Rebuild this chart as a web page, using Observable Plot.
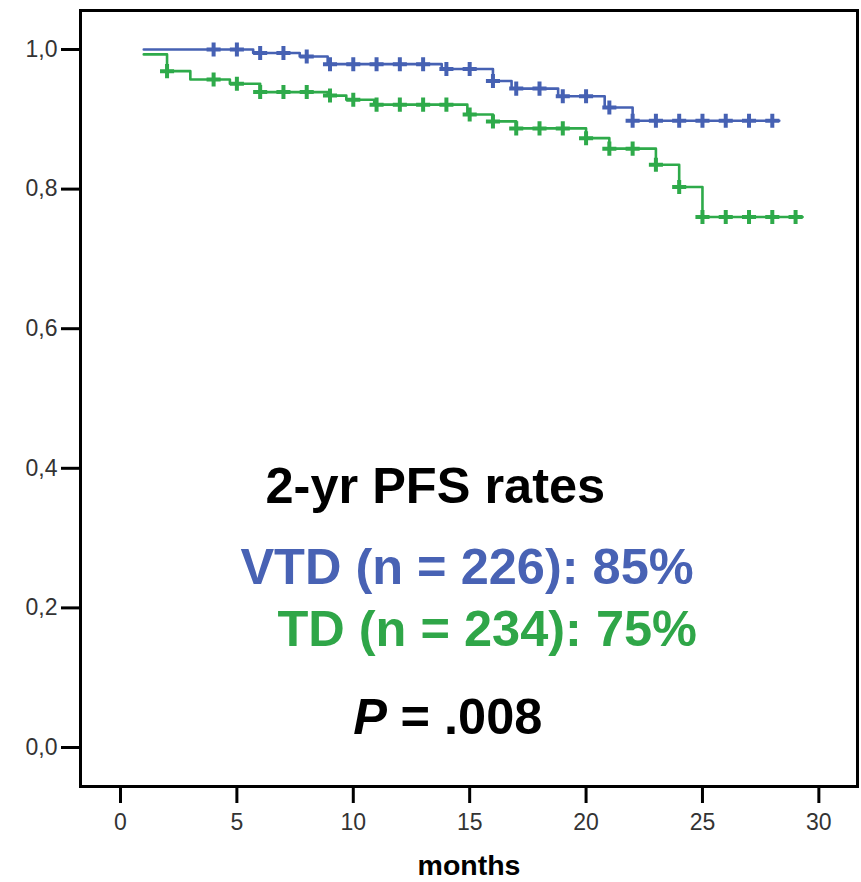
<!DOCTYPE html>
<html>
<head>
<meta charset="utf-8">
<script src="https://cdn.jsdelivr.net/npm/d3@7"></script>
<script src="https://cdn.jsdelivr.net/npm/@observablehq/plot@0.6"></script>
<style>
  html, body { margin: 0; padding: 0; background: #fff; }
  #chart svg { display: block; }
</style>
</head>
<body>
<div id="chart"></div>
<script>
// ---- data ----
const blueName = "VTD";
const blueStepT = [1, 5.7, 7.7, 8.9, 13.8, 16, 16.8, 18.8, 20.8, 22, 28.3];
const blueStepS = [1.0, 0.995, 0.99, 0.979, 0.972, 0.955, 0.944, 0.933, 0.917, 0.898, 0.898];
const blueCensorT = [4, 5, 6, 7, 8, 9, 10, 11, 12, 13, 14, 15, 16, 17, 18, 19, 20, 21, 22, 23, 24, 25, 26, 27, 28];

const greenName = "TD";
const greenStepT = [1, 2, 3, 4.7, 6, 8.9, 9.7, 10.9, 14.9, 16, 17, 20, 21, 23, 24, 25, 29.3];
const greenStepS = [0.993, 0.969, 0.957, 0.951, 0.939, 0.934, 0.928, 0.921, 0.907, 0.897, 0.887, 0.873, 0.858, 0.835, 0.803, 0.760, 0.760];
const greenCensorT = [2, 4, 5, 6, 7, 8, 9, 10, 11, 12, 13, 14, 15, 16, 17, 18, 19, 20, 21, 22, 23, 24, 25, 26, 27, 28, 29];

const xTicks = [0, 5, 10, 15, 20, 25, 30];
const yTicks = [0, 0.2, 0.4, 0.6, 0.8, 1.0];
const yTickLabels = ["0,0", "0,2", "0,4", "0,6", "0,8", "1,0"];
const xLabel = "months";

const annoTitle = "2-yr PFS rates";
const annoBlue = "VTD (n = 226): 85%";
const annoGreen = "TD (n = 234): 75%";
const annoPItalic = "P";
const annoPRest = "= .008";

// ---- styling ----
const blue = "#4661b3";
const green = "#2eaa4a";
const blueText = "#4862b4";
const greenText = "#2fa648";

// ---- derived tables ----
function curve(T, S, group) { return T.map((t, i) => ({t, s: S[i], group})); }
function survAt(T, S, t) {
  let v = S[0];
  for (let i = 0; i < T.length; i++) if (T[i] <= t + 1e-9) v = S[i];
  return v;
}
const lines = [...curve(blueStepT, blueStepS, blueName), ...curve(greenStepT, greenStepS, greenName)];
const censors = [
  ...blueCensorT.map(t => ({t, s: survAt(blueStepT, blueStepS, t), group: blueName})),
  ...greenCensorT.map(t => ({t, s: survAt(greenStepT, greenStepS, t), group: greenName}))
];
const annotations = [
  {t: 6.23, s: 0.350, text: annoTitle, color: "#000", italic: false},
  {t: 5.15, s: 0.2346, text: annoBlue, color: blueText, italic: false},
  {t: 6.74, s: 0.146, text: annoGreen, color: greenText, italic: false},
  {t: 10.0, s: 0.020, text: annoPItalic, color: "#000", italic: true},
  {t: 12.03, s: 0.020, text: annoPRest, color: "#000", italic: false}
];

const chart = Plot.plot({
  width: 861,
  height: 882,
  marginLeft: 80,
  marginRight: 4,
  marginTop: 10,
  marginBottom: 96,
  style: {fontFamily: "'Liberation Sans', Arial, sans-serif", background: "#fff"},
  x: {domain: [-1.718, 31.66], label: null},
  y: {domain: [-0.0559, 1.0559], label: null},
  color: {domain: [blueName, greenName], range: [blue, green]},
  marks: [
    Plot.axisY({ticks: yTicks, tickFormat: (d) => yTickLabels[yTicks.indexOf(d)], tickSize: 19, tickPadding: 4,
      strokeWidth: 3, stroke: "black", fill: "#333", fontSize: 23, label: null}),
    Plot.axisX({ticks: xTicks, tickSize: 17, tickPadding: 10, strokeWidth: 3, stroke: "black", fill: "#333",
      fontSize: 23, label: null}),
    Plot.line(lines, {x: "t", y: "s", z: "group", stroke: "group", strokeWidth: 2.6, curve: "step-after"}),
    Plot.dot(censors, {x: "t", y: "s", stroke: "group", symbol: "plus", r: 4.6, strokeWidth: 4}),
    Plot.text(annotations.filter(d => !d.italic), {x: "t", y: "s", text: "text", fill: "color", textAnchor: "start",
      lineAnchor: "bottom", fontSize: 50.5, fontWeight: "bold"}),
    Plot.text(annotations.filter(d => d.italic), {x: "t", y: "s", text: "text", fill: "color", textAnchor: "start",
      lineAnchor: "bottom", fontSize: 50.5, fontWeight: "bold", fontStyle: "italic"}),
    Plot.text([xLabel], {frameAnchor: "bottom", dy: 88, lineAnchor: "bottom", text: d => d, fontSize: 28.5,
      fontWeight: "bold", fill: "#000"}),
    Plot.frame({strokeWidth: 3, stroke: "black"})
  ]
});
document.getElementById("chart").appendChild(chart);
</script>
</body>
</html>
